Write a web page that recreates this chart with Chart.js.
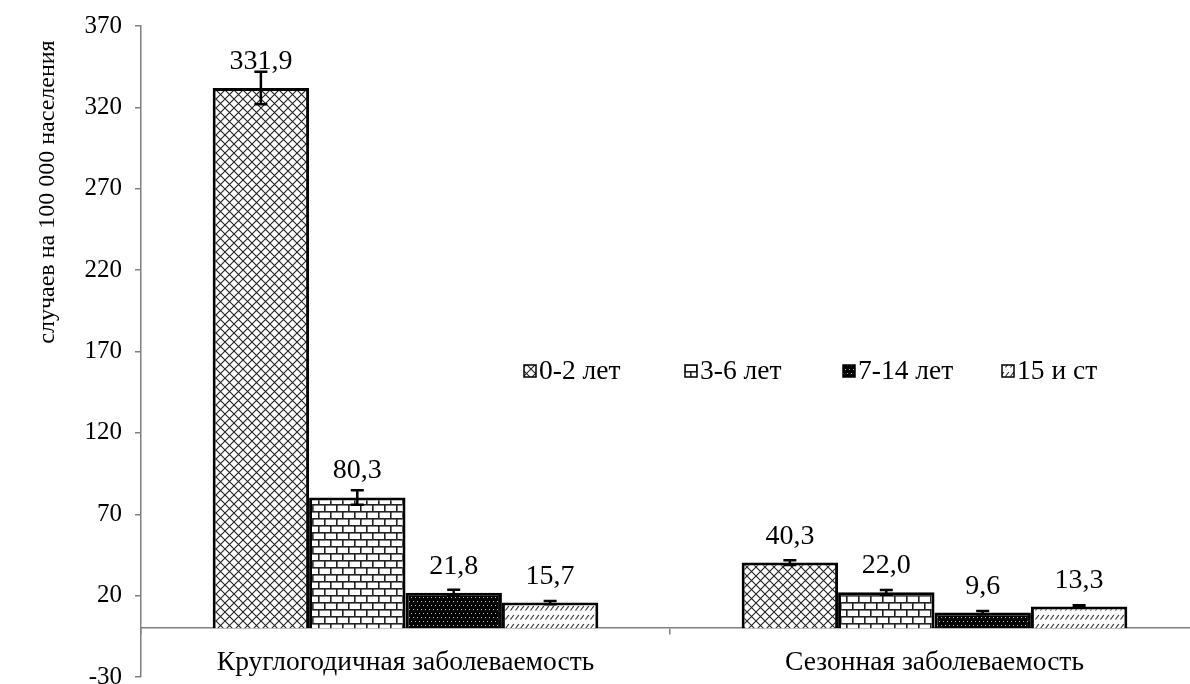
<!DOCTYPE html>
<html>
<head>
<meta charset="utf-8">
<script src="https://cdn.jsdelivr.net/npm/chart.js@4.4.1/dist/chart.umd.min.js"></script>
<style>
  html, body { margin: 0; padding: 0; background: #fff; overflow: hidden; }
  #wrap { width: 1190px; height: 684px; overflow: hidden; }
</style>
</head>
<body>
<div id="wrap"><canvas id="canvas" width="1200" height="684"></canvas></div>
<script>
// data
var categories = ['Круглогодичная заболеваемость', 'Сезонная заболеваемость'];
var seriesNames = ['0-2 лет', '3-6 лет', '7-14 лет', '15 и ст'];
var age02 = [331.9, 40.3];
var age36 = [80.3, 22.0];
var age714 = [21.8, 9.6];
var age15 = [15.7, 13.3];
var err02 = [10, 1.5];
var err36 = [4.4, 1.5];
var err714 = [1.8, 1];
var err15 = [1, 0.8];
var yTicks = [-30, 20, 70, 120, 170, 220, 270, 320, 370];
var yTitle = 'случаев на 100 000 населения';

var FONT = '"Liberation Serif", "Times New Roman", serif';

function tile(w, h, draw) {
    var c = document.createElement('canvas');
    c.width = w; c.height = h;
    var g = c.getContext('2d');
    draw(g);
    return document.getElementById('canvas').getContext('2d').createPattern(c, 'repeat');
}

// crosshatch
var patCross = tile(9, 9, function (g) {
    g.fillStyle = '#fff'; g.fillRect(0, 0, 9, 9);
    g.strokeStyle = '#222'; g.lineWidth = 1.1;
    g.beginPath();
    g.moveTo(0, 0); g.lineTo(9, 9);
    g.moveTo(9, 0); g.lineTo(0, 9);
    g.stroke();
});
// bricks
var patBrick = tile(12, 14, function (g) {
    g.fillStyle = '#fff'; g.fillRect(0, 0, 12, 14);
    g.fillStyle = '#222';
    g.fillRect(0, 0, 12, 1.6);
    g.fillRect(0, 7, 12, 1.6);
    g.fillRect(0, 0, 1.6, 7);
    g.fillRect(6, 7, 1.6, 7);
});
// dark with light dots
var patDots = tile(8, 8, function (g) {
    g.fillStyle = '#000'; g.fillRect(0, 0, 8, 8);
    g.fillStyle = '#bbb';
    g.fillRect(1, 1, 1, 1); g.fillRect(5, 1, 1, 1);
    g.fillRect(3, 5, 1, 1); g.fillRect(7, 5, 1, 1);
});
// short diagonal dashes
var patHatch = tile(5, 9, function (g) {
    g.fillStyle = '#fff'; g.fillRect(0, 0, 5, 9);
    g.strokeStyle = '#333'; g.lineWidth = 1.2;
    g.beginPath();
    g.moveTo(0.5, 7.5); g.lineTo(3.8, 3);
    g.stroke();
});

var patterns = [patCross, patBrick, patDots, patHatch];
var values = [age02, age36, age714, age15];
var errors = [err02, err36, err714, err15];

var datasets = seriesNames.map(function (name, i) {
    return {
        label: name,
        data: values[i],
        err: errors[i],
        backgroundColor: patterns[i],
        borderColor: '#000',
        borderWidth: 3,
        barPercentage: 1.0,
        categoryPercentage: 0.729
    };
});

var extras = {
    id: 'extras',
    afterDatasetsDraw: function (chart) {
        var ctx = chart.ctx;
        var y = chart.scales.y;
        ctx.save();
        chart.data.datasets.forEach(function (ds, di) {
            var meta = chart.getDatasetMeta(di);
            meta.data.forEach(function (bar, i) {
                var v = ds.data[i], e = ds.err[i];
                var top = y.getPixelForValue(v + e);
                var bot = y.getPixelForValue(v - e);
                ctx.strokeStyle = '#000';
                ctx.lineWidth = 2.5;
                ctx.beginPath();
                ctx.moveTo(bar.x, top); ctx.lineTo(bar.x, bot);
                ctx.moveTo(bar.x - 6.5, top); ctx.lineTo(bar.x + 6.5, top);
                ctx.moveTo(bar.x - 6.5, bot); ctx.lineTo(bar.x + 6.5, bot);
                ctx.stroke();
                ctx.fillStyle = '#000';
                ctx.font = '28px ' + FONT;
                ctx.textAlign = 'center';
                ctx.textBaseline = 'alphabetic';
                ctx.fillText(v.toFixed(1).replace('.', ','), bar.x, bar.y - 19);
            });
        });
        ctx.restore();
    },
    afterDraw: function (chart) {
        var ctx = chart.ctx;
        ctx.save();
        // y axis title
        ctx.translate(48, 192);
        ctx.rotate(-Math.PI / 2);
        ctx.fillStyle = '#000';
        ctx.font = '24px ' + FONT;
        ctx.textAlign = 'center';
        ctx.textBaseline = 'middle';
        ctx.fillText(yTitle, 0, 0);
        ctx.restore();

        // legend
        var lx = [524, 685, 843, 1002];
        var ly = 371;
        ctx.save();
        ctx.font = '27.5px ' + FONT;
        ctx.textBaseline = 'middle';
        ctx.textAlign = 'left';
        seriesNames.forEach(function (name, i) {
            ctx.fillStyle = patterns[i];
            ctx.fillRect(lx[i], ly - 6, 12, 12);
            ctx.strokeStyle = '#000';
            ctx.lineWidth = 1.5;
            ctx.strokeRect(lx[i], ly - 6, 12, 12);
            ctx.fillStyle = '#000';
            ctx.fillText(name, lx[i] + 15, ly + 1);
        });
        ctx.restore();
    }
};

new Chart(document.getElementById('canvas'), {
    type: 'bar',
    data: { labels: categories, datasets: datasets },
    plugins: [extras],
    options: {
        responsive: false,
        animation: false,
        layout: { padding: { top: 26, bottom: 7, left: 0, right: 1 } },
        plugins: { legend: { display: false }, tooltip: { enabled: false } },
        scales: {
            x: {
                position: { y: 0 },
                grid: { drawOnChartArea: false, offset: true, tickLength: 6, color: '#808080', lineWidth: 1.5 },
                border: { color: '#808080', width: 1.5 },
                ticks: { color: '#000', font: { family: FONT, size: 27.5 }, padding: 12, maxRotation: 0 }
            },
            y: {
                min: -30,
                max: 370,
                afterBuildTicks: function (scale) {
                    scale.ticks = yTicks.map(function (v) { return { value: v }; });
                },
                afterFit: function (scale) {
                    scale.width = 141;
                    scale.paddingTop = 0;
                    scale.paddingBottom = 0;
                },
                grid: { drawOnChartArea: false, tickLength: 6, color: '#808080', lineWidth: 1.5 },
                border: { color: '#808080', width: 1.5 },
                ticks: { color: '#000', font: { family: FONT, size: 25 }, padding: 13 }
            }
        }
    }
});
</script>
</body>
</html>
